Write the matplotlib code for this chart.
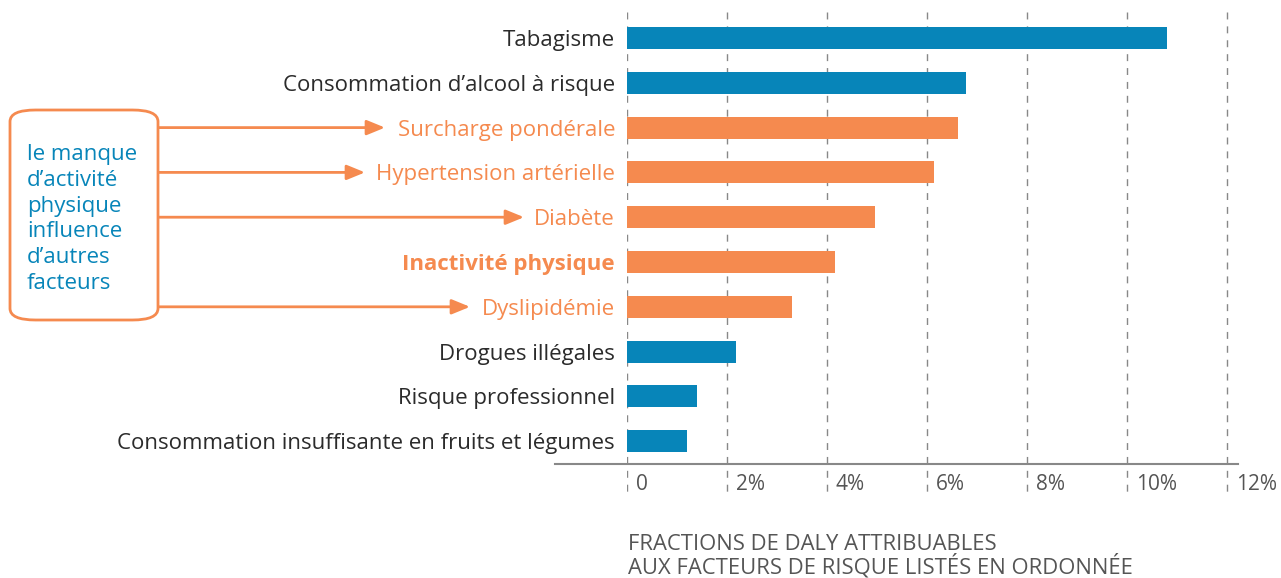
import matplotlib
matplotlib.use('Agg')
import matplotlib.pyplot as plt
from matplotlib.patches import FancyBboxPatch

plt.rcParams['font.family'] = ['Open Sans', 'DejaVu Sans']

# valeurs (fraction de DALY, %)
facteurs = ['Tabagisme', 'Consommation d\u2019alcool à risque', 'Surcharge pondérale',
            'Hypertension artérielle', 'Diabète', 'Inactivité physique', 'Dyslipidémie',
            'Drogues illégales', 'Risque professionnel',
            'Consommation insuffisante en fruits et légumes']
valeurs = [10.8, 6.78, 6.62, 6.14, 4.96, 4.16, 3.3, 2.18, 1.4, 1.2]
groupe = ['autre', 'autre', 'lie', 'lie', 'lie', 'inact', 'lie', 'autre', 'autre', 'autre']
ticks = [0, 2, 4, 6, 8, 10, 12]
tick_labels = ['0', '2%', '4%', '6%', '8%', '10%', '12%']
lies = ['Surcharge pondérale', 'Hypertension artérielle', 'Diabète', 'Dyslipidémie']
fin_fleche = [385, 365, 524, 470]   # pixels, bout de la flèche

BLEU = '#0785b9'
ORANGE = '#f58a4f'
GRIS = '#555555'

W, H = 1281, 578
fig = plt.figure(figsize=(W / 100, H / 100), dpi=100)
ax = fig.add_axes([627 / W, 1 - 495 / H, (1238 - 627) / W, (495 - 12) / H])
ax.set_xlim(0, 12.22)
ax.set_ylim(10.2, -0.58)
ax.axis('off')

for i, (f, v, g) in enumerate(zip(facteurs, valeurs, groupe)):
    c = BLEU if g == 'autre' else ORANGE
    ax.barh(i, v, height=0.49, color=c, zorder=3)
    ax.text(-0.24, i, f, ha='right', va='center_baseline', fontsize=16,
            color='#2b2b2b' if g == 'autre' else ORANGE,
            fontweight='bold' if g == 'inact' else 'normal')

for t, lab in zip(ticks, tick_labels):
    ax.plot([t, t], [-0.58, 10.2], color='#888888', lw=1, ls=(0, (5, 5)), zorder=1)
    ax.text(t + 0.18, 9.92, lab, ha='left', va='center_baseline', fontsize=15, color=GRIS)

ax.plot([-1.44, 12.22], [9.51, 9.51], color='#888888', lw=1.5, clip_on=False, zorder=2)

fig.text(628 / W, 1 - 544 / H, 'FRACTIONS DE DALY ATTRIBUABLES', fontsize=15.8,
         color=GRIS, va='center', ha='left')
fig.text(628 / W, 1 - 566 / H, 'AUX FACTEURS DE RISQUE LISTÉS EN ORDONNÉE', fontsize=15.8,
         color=GRIS, va='center', ha='left')

# encadré
box = FancyBboxPatch((10 / W, 1 - 320 / H), 148 / W, 210 / H,
                     boxstyle='round,pad=0,rounding_size=0.02', transform=fig.transFigure,
                     fill=False, edgecolor=ORANGE, lw=2)
fig.add_artist(box)
fig.text(27 / W, 1 - 219 / H,
         'le manque\nd\u2019activité\nphysique\ninfluence\nd\u2019autres\nfacteurs',
         fontsize=16, color=BLEU, va='center', ha='left', linespacing=1.29)

for nom, xe in zip(lies, fin_fleche):
    y = facteurs.index(nom)
    ax.annotate('', xy=(xe / W, y), xycoords=('figure fraction', 'data'),
                xytext=(159 / W, y), textcoords=('figure fraction', 'data'),
                arrowprops=dict(arrowstyle='-|>,head_length=1.1,head_width=0.45',
                                color=ORANGE, lw=2, shrinkA=0, shrinkB=0))

fig.savefig('out.png', dpi=100)
